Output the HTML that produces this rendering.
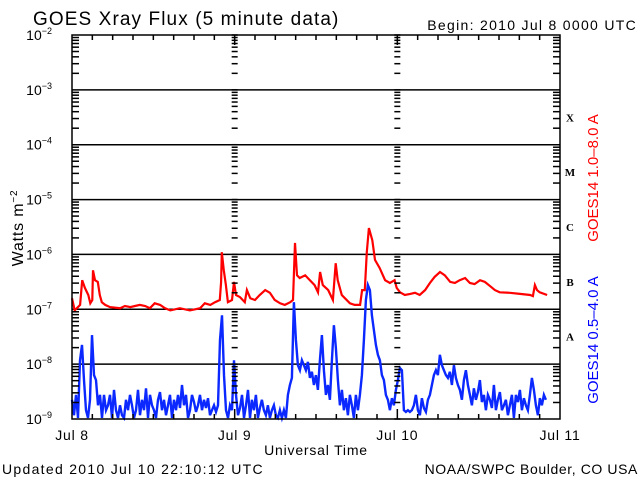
<!DOCTYPE html>
<html><head><meta charset="utf-8"><style>
html,body{margin:0;padding:0;background:#fff;}
svg{display:block;font-family:"Liberation Sans",sans-serif;}
</style></head><body>
<svg id="chart" width="640" height="480" viewBox="0 0 640 480" xmlns="http://www.w3.org/2000/svg">
<rect x="0" y="0" width="640" height="480" fill="#fff"/>
<text x="33" y="25" font-size="19" letter-spacing="1.1" fill="#000">GOES Xray Flux (5 minute data)</text>
<text x="637" y="30" font-size="14" letter-spacing="1.3" text-anchor="end" fill="#000">Begin:  2010 Jul 8 0000 UTC</text>
<text transform="translate(23,228) rotate(-90)" font-size="16" letter-spacing="0.8" text-anchor="middle" fill="#000">Watts m<tspan dy="-6" font-size="10">−2</tspan></text>
<text transform="translate(598,178) rotate(-90)" font-size="15" text-anchor="middle" fill="#ff0000">GOES14 1.0–8.0 A</text>
<text transform="translate(598,340) rotate(-90)" font-size="15" text-anchor="middle" fill="#0000ff">GOES14 0.5–4.0 A</text>
<text x="316" y="455" font-size="14" letter-spacing="0.8" text-anchor="middle" fill="#000">Universal Time</text>
<text x="2" y="474" font-size="14" letter-spacing="1.3" fill="#000">Updated 2010 Jul 10 22:10:12 UTC</text>
<text x="638" y="474" font-size="14" letter-spacing="0.6" text-anchor="end" fill="#000">NOAA/SWPC Boulder, CO USA</text>
<g id="grid"></g>
<g id="series"></g>
<g id="axes"></g>
</svg>
<script>
const decades = [-2,-3,-4,-5,-6,-7,-8,-9];
const dayLabels = ["Jul 8","Jul 9","Jul 10","Jul 11"];
const classLabels = ["X","M","C","B","A"];
const classLevels = [-3.5,-4.5,-5.5,-6.5,-7.5];
const redHours = [0,0.4,1.2,1.5,1.9,2.4,2.7,3.0,3.1,3.4,3.8,4.1,4.4,4.9,5.6,7.1,7.8,8.6,9.3,10.0,10.8,11.5,12.2,13.0,13.7,14.5,15.9,17.4,18.9,19.6,20.4,21.1,21.8,22.0,22.1,22.4,22.7,23.0,23.6,23.9,24.2,24.8,25.5,25.8,26.3,27.0,27.7,28.5,29.2,29.9,30.7,31.4,32.2,32.6,32.9,33.2,33.6,34.4,35.1,35.8,36.3,36.6,37.0,37.8,38.5,38.9,39.2,39.8,41.0,41.7,42.5,42.8,43.2,43.5,43.8,44.3,44.7,45.4,46.2,46.9,47.6,47.9,48.4,49.1,49.9,50.6,51.3,52.1,52.8,53.5,54.3,55.0,55.8,56.5,57.2,58.0,58.7,59.4,60.2,60.9,61.7,62.4,63.1,64.6,66.1,67.6,68.0,68.3,68.6,69.0,70.1];
const redLog = [-6.80,-7.02,-6.92,-6.47,-6.61,-6.74,-6.89,-6.83,-6.29,-6.47,-6.50,-6.74,-6.87,-6.92,-6.96,-6.98,-6.94,-6.96,-6.94,-6.92,-6.94,-6.98,-6.89,-6.92,-6.98,-7.02,-6.98,-7.02,-6.98,-6.89,-6.92,-6.87,-6.83,-6.50,-5.96,-6.29,-6.56,-6.87,-6.83,-6.50,-6.74,-6.78,-6.87,-6.65,-6.80,-6.83,-6.74,-6.65,-6.70,-6.83,-6.89,-6.92,-6.87,-6.83,-5.79,-6.38,-6.43,-6.38,-6.47,-6.56,-6.69,-6.32,-6.56,-6.65,-6.83,-6.16,-6.47,-6.74,-6.89,-6.92,-6.92,-6.65,-6.65,-5.96,-5.52,-5.74,-6.10,-6.25,-6.47,-6.52,-6.47,-6.61,-6.69,-6.74,-6.72,-6.70,-6.74,-6.65,-6.52,-6.41,-6.32,-6.38,-6.50,-6.52,-6.47,-6.43,-6.52,-6.54,-6.47,-6.50,-6.58,-6.65,-6.69,-6.70,-6.72,-6.74,-6.76,-6.56,-6.65,-6.69,-6.74];
const blueStartHour = 0;
const blueStepHour = 0.295;
const blueLog = [-8.65,-8.93,-8.56,-8.98,-7.93,-7.65,-8.29,-8.84,-8.98,-8.65,-7.47,-8.20,-8.29,-8.75,-8.56,-8.98,-8.56,-8.84,-8.75,-8.56,-8.98,-8.47,-8.84,-8.98,
-8.75,-8.93,-8.98,-8.65,-8.84,-8.56,-8.75,-8.98,-8.84,-8.47,-8.93,-8.65,-8.84,-8.44,-8.98,-8.56,-8.75,-8.84,-8.98,-8.65,-8.51,-8.84,-8.65,-8.93,
-8.75,-8.56,-8.98,-8.65,-8.84,-8.56,-8.80,-8.38,-8.75,-8.56,-8.98,-8.84,-8.56,-8.69,-8.87,-8.75,-8.56,-8.84,-8.65,-8.80,-8.62,-8.93,-8.84,-8.75,-8.87,-8.75,
-7.56,-7.11,-8.20,-8.84,-8.98,-8.75,-8.84,-7.93,-8.56,-8.93,-8.80,-8.56,-8.98,-8.75,-8.47,-8.98,-8.65,-8.84,-8.56,-8.98,-8.80,-8.65,-8.84,-8.93,-8.75,-8.98,-8.84,-8.75,-8.93,-8.98,-8.84,-8.98,-8.84,-8.98,
-8.56,-8.38,-8.25,-6.87,-7.56,-8.02,-8.11,-7.93,-8.02,-8.11,-7.96,-8.25,-8.14,-8.38,-8.20,-8.47,-7.93,-7.47,-8.11,-8.56,-8.38,-8.65,-7.93,-7.29,-7.71,-8.29,-8.75,-8.47,-8.84,-8.62,-8.93,-8.56,-8.75,-8.98,
-8.56,-8.84,-8.56,-8.20,-7.56,-6.83,-6.56,-6.65,-7.11,-7.38,-7.65,-7.83,-7.93,-8.20,-8.29,-8.56,-8.65,-8.84,-8.62,-8.75,-8.47,-8.29,-8.07,-8.11,-8.84,-8.87,-8.84,-8.87,-8.84,-8.75,-8.56,-8.84,-8.93,-8.62,
-8.80,-8.87,-8.65,-8.56,-8.38,-8.20,-8.11,-8.20,-7.83,-8.02,-8.11,-8.20,-8.25,-8.14,-8.38,-8.02,-8.25,-8.38,-8.47,-8.65,-8.29,-8.11,-8.38,-8.56,-8.75,-8.44,-8.65,-8.51,-8.29,-8.69,-8.56,-8.84,-8.56,-8.65,
-8.80,-8.38,-8.84,-8.65,-8.51,-8.84,-8.75,-8.65,-8.93,-8.75,-8.56,-8.98,-8.56,-8.69,-8.47,-8.84,-8.62,-8.75,-8.84,-8.56,-8.25,-8.47,-8.75,-8.93,-8.62,-8.75,-8.56,-8.65];

const NS="http://www.w3.org/2000/svg";
const X0=72,X1=560,Y0=35,Y1=419;
const xScale=h=>X0+(h/72)*(X1-X0);
const yScale=l=>{const c=Math.max(-9,Math.min(-2,l));return Y0+(-2-c)/7*(Y1-Y0);};
function mk(tag,attrs,parent){const e=document.createElementNS(NS,tag);for(const k in attrs)e.setAttribute(k,attrs[k]);parent.appendChild(e);return e;}
const grid=document.getElementById('grid'),series=document.getElementById('series'),axes=document.getElementById('axes');

decades.forEach(d=>{
  const y=yScale(d);
  if(d>-9&&d<-2){const l=mk('line',{x1:X0,x2:X1,y1:y,y2:y,stroke:'#000','stroke-width':1.5},grid);
    
    }
  const t=mk('text',{x:52,y:y+5,'font-size':14,'text-anchor':'end',fill:'#000'},axes);
  
  
  t.textContent='10';
  const s=mk('tspan',{dy:-6,'font-size':9},t); s.textContent='−'+(-d);
});
const tickXs=[[X0,1],[X1,-1],[xScale(24),0],[xScale(48),0]];
for(let d=-9;d<-2;d++){
  for(let m=2;m<=9;m++){
    const y=yScale(d+Math.log10(m));
    tickXs.forEach(([x,dir])=>{
      let a,b;
      if(dir===1){a=x;b=x+7;}else if(dir===-1){a=x-7;b=x;}else{a=x-3;b=x+3;}
      mk('line',{x1:a,x2:b,y1:y,y2:y,stroke:'#000','stroke-width':1.5},axes);
    });
  }
}
[24,48].forEach(h=>{const x=xScale(h);
  decades.forEach(d=>{const y=yScale(d);mk('line',{x1:x-3,x2:x+3,y1:y,y2:y,stroke:'#000','stroke-width':1.5},axes);});
});
for(let h=3;h<72;h+=3){const x=xScale(h);const L=(h%24===0)?10:5;
  mk('line',{x1:x,x2:x,y1:Y0,y2:Y0+L,stroke:'#000','stroke-width':1.5},axes);
  mk('line',{x1:x,x2:x,y1:Y1-L,y2:Y1,stroke:'#000','stroke-width':1.5},axes);}
const fr=mk('rect',{x:X0,y:Y0,width:X1-X0,height:Y1-Y0,fill:'none',stroke:'#000','stroke-width':1.5},axes);


dayLabels.forEach((s,i)=>{const t=mk('text',{x:xScale(i*24),y:440,'font-size':14,'letter-spacing':0.8,'text-anchor':'middle',fill:'#000'},axes);
  
  
  t.textContent=s;});
classLabels.forEach((s,i)=>{const t=mk('text',{x:570,y:yScale(classLevels[i])+4,'font-size':11,'font-weight':'bold','font-family':'Liberation Serif, serif','text-anchor':'middle',fill:'#000'},axes);
  
  
  t.textContent=s;});
function stepPath(xs,ys){let p='';for(let i=0;i<xs.length;i++){p+=(i?'L':'M')+xs[i].toFixed(1)+','+ys[i].toFixed(1);} return p;}
const bx=blueLog.map((v,i)=>xScale(blueStartHour+i*blueStepHour)),by=blueLog.map(yScale);
const bp=mk('path',{d:stepPath(bx,by),fill:'none',stroke:'#0a28ff','stroke-width':2.4,'stroke-linejoin':'miter'},series);


const rx=redHours.map(xScale),ry=redLog.map(yScale);
const rp=mk('path',{d:stepPath(rx,ry),fill:'none',stroke:'#ff0000','stroke-width':2.2},series);


</script>
</body></html>
